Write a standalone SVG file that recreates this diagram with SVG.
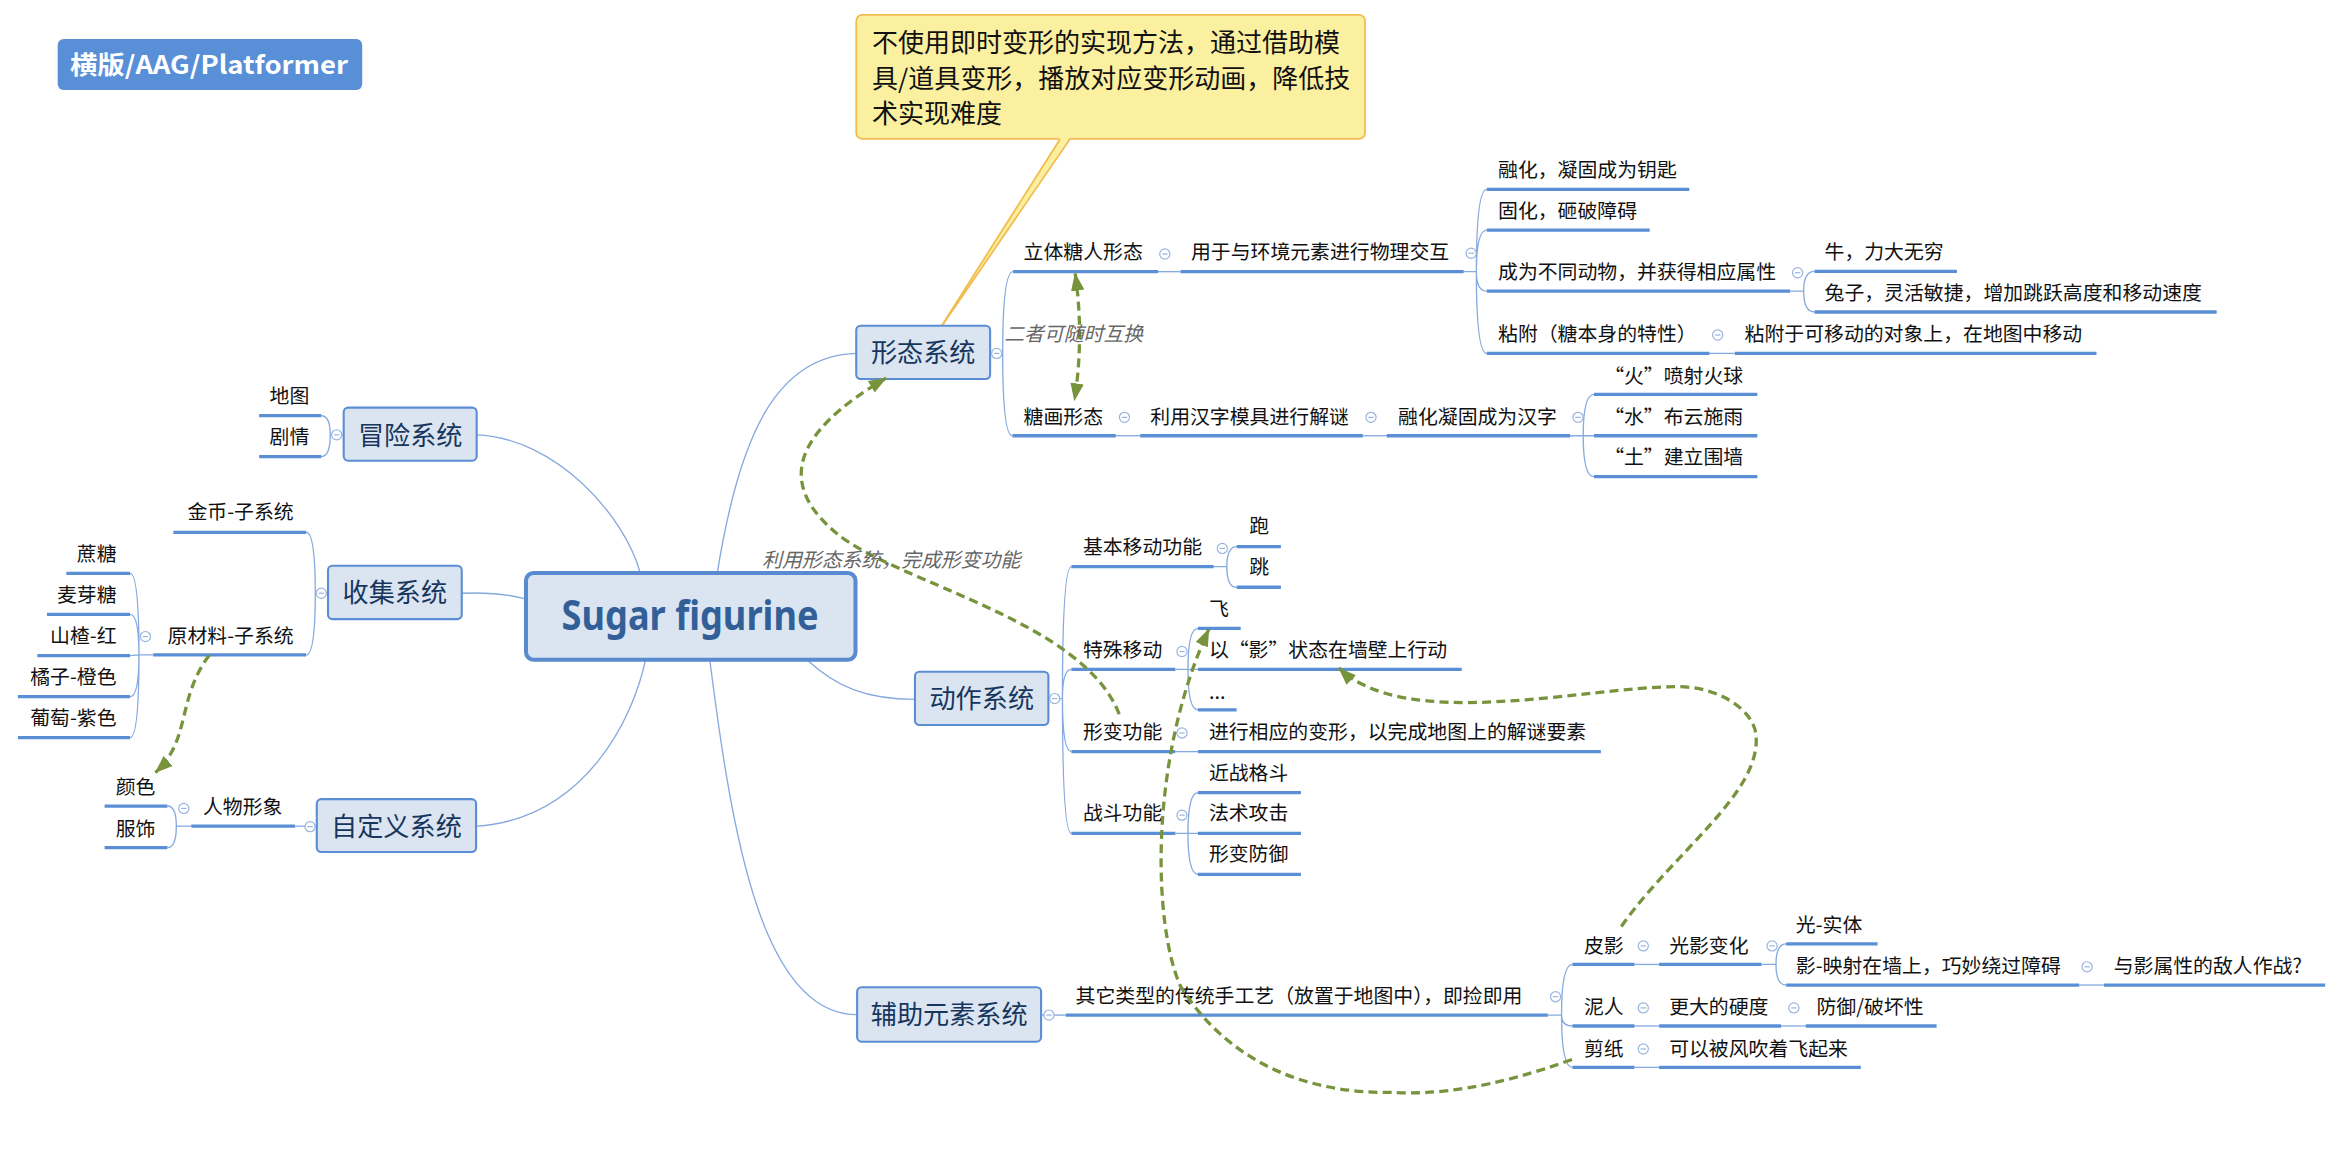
<svg xmlns="http://www.w3.org/2000/svg" xmlns:xlink="http://www.w3.org/1999/xlink" width="2343" height="1161" viewBox="0 0 2343 1161">
<style>
.t{font-family:'Noto Sans CJK SC','Noto Sans',sans-serif;font-size:13.3px;fill:#111}
.nt{font-family:'Noto Sans CJK SC','Noto Sans',sans-serif;font-size:17.4px;fill:#111}
.e{text-anchor:end}
.ul{stroke:#5a8fd5;stroke-width:2.2;fill:none}
.c{stroke:#86aadf;stroke-width:0.9;fill:none}
.box{fill:#dbe5f1;stroke:#5a8dd3;stroke-width:1.4}
.mt{font-family:'Noto Sans CJK SC','Noto Sans',sans-serif;font-size:17.5px;fill:#17365d;text-anchor:middle}
.lbl{font-family:'Noto Sans CJK SC','Noto Sans',sans-serif;font-size:13.3px;fill:#666;font-style:italic}
.dash{stroke:#77933c;stroke-width:2.2;stroke-dasharray:6 3.5;fill:none}
.bc{fill:#fff;stroke:#98b4e0;stroke-width:0.8}
.bl{stroke:#98b4e0;stroke-width:0.8}
</style>
<defs>
<g id="btn"><circle class="bc" r="3.4"/><line class="bl" x1="-1.8" y1="0" x2="1.8" y2="0"/></g>
<marker id="ah" markerUnits="userSpaceOnUse" viewBox="0 0 12 10" markerWidth="12" markerHeight="10" refX="11.5" refY="5" orient="auto-start-reverse"><path d="M0,0.5 L12,5 L0,9.5 z" fill="#77933c"/></marker>
</defs>
<rect x="0" y="0" width="2343" height="1161" fill="#fff"/>
<g transform="scale(1.4943)">

<g id="connectors">
<path class="c" d="M428.5,383.5 C418,345 372,293 319,291"/>
<path class="c" d="M352,401 Q335,396 309,397"/>
<path class="c" d="M432,441.5 C424,480 392,548 318.6,553"/>
<path class="c" d="M480,383.5 C495,290 520,238 573,236.5"/>
<path class="c" d="M540,441.5 C560,460 580,468 612.3,468"/>
<path class="c" d="M475,441.5 C490,560 510,679 573.6,679"/>

<path class="c" d="M662.6,236.5 L671,236.5 Q671,181.8 678,181.8 M671,236.5 Q671,291.6 677.6,291.6"/>
<path class="c" d="M775,181.8 L790,181.8"/>
<path class="c" d="M979.5,181.8 L988,181.8 Q988,126.7 995,126.7 M988,181.8 Q988,154 995,154 M988,181.8 Q988,194.8 995,194.8 M988,181.8 Q988,236.5 995,236.5"/>
<path class="c" d="M1198,194.8 L1207,194.8 Q1207,181.6 1214.3,181.6 M1207,194.8 Q1207,208.8 1214.3,208.8"/>
<path class="c" d="M1144,236.5 L1161,236.5"/>
<path class="c" d="M746.7,291.6 L763,291.6"/>
<path class="c" d="M912,291.6 L928,291.6"/>
<path class="c" d="M1050.7,291.6 L1066.7,291.6 M1059.5,291.6 Q1059.5,263.9 1066.7,263.9 M1059.5,291.6 Q1059.5,319 1066.7,319"/>

<path class="c" d="M701.6,467.5 L711,467.5 M711,467.5 Q711,379.2 717,379.2 M711,467.5 Q711,448 717,448 M711,467.5 Q711,503 717,503 M711,467.5 Q711,557.7 717,557.7"/>
<path class="c" d="M812.2,379.2 L821,379.2 Q821,365.8 827.6,365.8 M821,379.2 Q821,393 827.6,393"/>
<path class="c" d="M786.5,448 L801.7,448 M795,448 Q795,420.5 801.7,420.5 M795,448 Q795,475 801.7,475"/>
<path class="c" d="M786.5,503 L801.7,503"/>
<path class="c" d="M786.5,557.7 L801.7,557.7 M795,557.7 Q795,530.5 801.7,530.5 M795,557.7 Q795,585.1 801.7,585.1"/>

<path class="c" d="M696.7,679.3 L713.2,679.3"/>
<path class="c" d="M1035.8,679.3 L1045,679.3 Q1045,645.4 1052.3,645.4 M1045,679.3 Q1045,686.6 1052.3,686.6 M1045,679.3 Q1045,714.3 1052.3,714.3"/>
<path class="c" d="M1093.8,645.4 L1110.3,645.4"/>
<path class="c" d="M1178.8,645.4 L1188.5,645.4 Q1188.5,631.7 1195.3,631.7 M1188.5,645.4 Q1188.5,659.2 1195.3,659.2"/>
<path class="c" d="M1391.4,659.2 L1408,659.2"/>
<path class="c" d="M1093.8,686.6 L1110.3,686.6"/>
<path class="c" d="M1191.9,686.6 L1208.4,686.6"/>
<path class="c" d="M1093.8,714.3 L1110.3,714.3"/>

<path class="c" d="M230,291 L221,291 Q221,278.2 215,278.2 M221,291 Q221,305.6 215,305.6"/>
<path class="c" d="M219.5,397 L211,397 Q211,356.2 204.8,356.2 M211,397 Q211,438.3 204.8,438.3"/>
<path class="c" d="M102.5,438.3 L93,438.3 Q93,383.7 87,383.7 M93,438.3 Q93,411.1 87,411.1 M93,438.3 L87,438.8 M93,438.3 Q93,466.2 87,466.2 M93,438.3 Q93,493.6 87,493.6"/>
<path class="c" d="M212,553 L197.4,552.8"/>
<path class="c" d="M128,552.8 L118,552.8 Q118,539.4 112,539.4 M118,552.8 Q118,567.3 112,567.3"/>
</g>

<g id="title">
<rect x="38.6" y="26.1" width="203.8" height="34.1" rx="4" fill="#588fd6"/>
<text x="46.8" y="49.5" font-family="'Noto Sans CJK SC','Noto Sans',sans-serif" font-size="17" font-weight="bold" fill="#fff" textLength="186" lengthAdjust="spacingAndGlyphs">横版/AAG/Platformer</text>
</g>

<g id="note">
<rect x="573" y="10" width="340.5" height="83" rx="4" fill="#fbf0a0" stroke="#f2bd50" stroke-width="1.2"/>
<polygon points="709.5,91.8 716,91.8 627,223" fill="#fbf0a0"/>
<polyline points="709.5,93 627,223 716,93" fill="none" stroke="#f2bd50" stroke-width="1.2"/>
<text class="nt" x="583.6" y="35">不使用即时变形的实现方法，通过借助模</text>
<text class="nt" x="583.6" y="58.6">具/道具变形，播放对应变形动画，降低技</text>
<text class="nt" x="583.6" y="82.2">术实现难度</text>
</g>

<g id="root">
<rect x="352" y="383.5" width="220.5" height="58" rx="5" fill="#dbe5f1" stroke="#5a8ad0" stroke-width="2.7"/>
<text x="461.8" y="421.6" text-anchor="middle" font-family="'Noto Sans','Open Sans',sans-serif" font-size="27" font-weight="bold" fill="#335f99" textLength="172" lengthAdjust="spacingAndGlyphs">Sugar figurine</text>
</g>

<g id="n-xingtai"><rect class="box" x="573" y="218" width="89.6" height="35.6" rx="3"/><text class="mt" x="617.8" y="242.5">形态系统</text><use xlink:href="#btn" x="667" y="236.5"/></g>
<g id="n-maoxian"><rect class="box" x="230" y="272.8" width="89" height="35.5" rx="3"/><text class="mt" x="274.5" y="297.5">冒险系统</text><use xlink:href="#btn" x="225.3" y="291"/></g>
<g id="n-shouji"><rect class="box" x="219.5" y="378.6" width="89.5" height="35.7" rx="3"/><text class="mt" x="264.2" y="403">收集系统</text><use xlink:href="#btn" x="215" y="397"/></g>
<g id="n-zidingyi"><rect class="box" x="212" y="534.8" width="106.6" height="35.4" rx="3"/><text class="mt" x="265.3" y="559.5">自定义系统</text><use xlink:href="#btn" x="207.5" y="553.2"/></g>
<g id="n-dongzuo"><rect class="box" x="612.3" y="449.5" width="89.3" height="35.7" rx="3"/><text class="mt" x="657" y="473.5">动作系统</text><use xlink:href="#btn" x="705.8" y="467.5"/></g>
<g id="n-fuzhu"><rect class="box" x="573.6" y="660.7" width="123.1" height="36.4" rx="3"/><text class="mt" x="635.2" y="685.5">辅助元素系统</text><use xlink:href="#btn" x="702" y="679.3"/></g>

<g id="n-liti"><text class="t" x="685" y="173">立体糖人形态</text><line class="ul" x1="678" y1="181.8" x2="775" y2="181.8"/><use xlink:href="#btn" x="779.5" y="170"/></g>
<g id="n-yongyu"><text class="t" x="797" y="173">用于与环境元素进行物理交互</text><line class="ul" x1="790" y1="181.8" x2="979.5" y2="181.8"/><use xlink:href="#btn" x="984.5" y="169.5"/></g>
<g id="n-ronghua"><text class="t" x="1002.5" y="118.5">融化，凝固成为钥匙</text><line class="ul" x1="995" y1="126.7" x2="1130.5" y2="126.7"/></g>
<g id="n-guhua"><text class="t" x="1002.5" y="146">固化，砸破障碍</text><line class="ul" x1="995" y1="154" x2="1104" y2="154"/></g>
<g id="n-dongwu"><text class="t" x="1002.5" y="187">成为不同动物，并获得相应属性</text><line class="ul" x1="995" y1="194.8" x2="1198" y2="194.8"/><use xlink:href="#btn" x="1203" y="182.5"/></g>
<g id="n-niu"><text class="t" x="1221" y="173.5">牛，力大无穷</text><line class="ul" x1="1214.3" y1="181.6" x2="1309.6" y2="181.6"/></g>
<g id="n-tuzi"><text class="t" x="1221" y="200.5">兔子，灵活敏捷，增加跳跃高度和移动速度</text><line class="ul" x1="1214.3" y1="208.8" x2="1483.4" y2="208.8"/></g>
<g id="n-nianfu"><text class="t" x="1002.5" y="228.5">粘附（糖本身的特性）</text><line class="ul" x1="995" y1="236.5" x2="1144" y2="236.5"/><use xlink:href="#btn" x="1149.5" y="224.2"/></g>
<g id="n-nianfu2"><text class="t" x="1167.5" y="228.5">粘附于可移动的对象上，在地图中移动</text><line class="ul" x1="1161" y1="236.5" x2="1403" y2="236.5"/></g>
<g id="n-tanghua"><text class="t" x="685" y="283.5">糖画形态</text><line class="ul" x1="677.6" y1="291.6" x2="746.7" y2="291.6"/><use xlink:href="#btn" x="752.5" y="279.3"/></g>
<g id="n-hanzi"><text class="t" x="769.8" y="283.5">利用汉字模具进行解谜</text><line class="ul" x1="763" y1="291.6" x2="912" y2="291.6"/><use xlink:href="#btn" x="917.5" y="279.3"/></g>
<g id="n-ronghua2"><text class="t" x="935.6" y="283.5">融化凝固成为汉字</text><line class="ul" x1="928" y1="291.6" x2="1050.7" y2="291.6"/><use xlink:href="#btn" x="1056" y="279.3"/></g>
<g id="n-huo"><text class="t" x="1073.5" y="256">“火”喷射火球</text><line class="ul" x1="1066.7" y1="263.9" x2="1176" y2="263.9"/></g>
<g id="n-shui"><text class="t" x="1073.5" y="283.5">“水”布云施雨</text><line class="ul" x1="1066.7" y1="291.6" x2="1176" y2="291.6"/></g>
<g id="n-tu"><text class="t" x="1073.5" y="310.5">“土”建立围墙</text><line class="ul" x1="1066.7" y1="319" x2="1176" y2="319"/></g>

<g id="n-jiben"><text class="t" x="724.7" y="370.5">基本移动功能</text><line class="ul" x1="717" y1="379.2" x2="812.2" y2="379.2"/><use xlink:href="#btn" x="818" y="367"/></g>
<g id="n-pao"><text class="t" x="836" y="356.5">跑</text><line class="ul" x1="827.6" y1="365.8" x2="857.2" y2="365.8"/></g>
<g id="n-tiao"><text class="t" x="836" y="384">跳</text><line class="ul" x1="827.6" y1="393" x2="857.2" y2="393"/></g>
<g id="n-teshu"><text class="t" x="724.7" y="439.5">特殊移动</text><line class="ul" x1="717" y1="448" x2="786.5" y2="448"/><use xlink:href="#btn" x="791" y="436"/></g>
<g id="n-fei"><text class="t" x="809" y="412">飞</text><line class="ul" x1="801.7" y1="420.5" x2="830.3" y2="420.5"/></g>
<g id="n-ying"><text class="t" x="809" y="439.5">以“影”状态在墙壁上行动</text><line class="ul" x1="801.7" y1="448" x2="978.2" y2="448"/></g>
<g id="n-etc"><text class="t" x="809" y="467.5">...</text><line class="ul" x1="801.7" y1="475" x2="827.6" y2="475"/></g>
<g id="n-xingbian"><text class="t" x="724.7" y="494.5">形变功能</text><line class="ul" x1="717" y1="503" x2="786.5" y2="503"/><use xlink:href="#btn" x="791" y="490.5"/></g>
<g id="n-jinxing"><text class="t" x="809" y="494.5">进行相应的变形，以完成地图上的解谜要素</text><line class="ul" x1="801.7" y1="503" x2="1071.3" y2="503"/></g>
<g id="n-zhandou"><text class="t" x="724.7" y="549">战斗功能</text><line class="ul" x1="717" y1="557.7" x2="786.5" y2="557.7"/><use xlink:href="#btn" x="791" y="545.5"/></g>
<g id="n-jinzhan"><text class="t" x="809" y="522">近战格斗</text><line class="ul" x1="801.7" y1="530.5" x2="870.6" y2="530.5"/></g>
<g id="n-fashu"><text class="t" x="809" y="549">法术攻击</text><line class="ul" x1="801.7" y1="557.7" x2="870.6" y2="557.7"/></g>
<g id="n-fangyu"><text class="t" x="809" y="576.5">形变防御</text><line class="ul" x1="801.7" y1="585.1" x2="870.6" y2="585.1"/></g>

<g id="n-qita"><text class="t" x="719.8" y="671">其它类型的传统手工艺（放置于地图中），即捡即用</text><line class="ul" x1="713.2" y1="679.3" x2="1035.8" y2="679.3"/><use xlink:href="#btn" x="1041" y="667"/></g>
<g id="n-piying"><text class="t" x="1060" y="637.5">皮影</text><line class="ul" x1="1052.3" y1="645.4" x2="1093.8" y2="645.4"/><use xlink:href="#btn" x="1099.7" y="633"/></g>
<g id="n-guangying"><text class="t" x="1117" y="637.5">光影变化</text><line class="ul" x1="1110.3" y1="645.4" x2="1178.8" y2="645.4"/><use xlink:href="#btn" x="1185.9" y="633"/></g>
<g id="n-guang"><text class="t" x="1201.8" y="624">光-实体</text><line class="ul" x1="1195.3" y1="631.7" x2="1256.5" y2="631.7"/></g>
<g id="n-yingying"><text class="t" x="1201.8" y="651">影-映射在墙上，巧妙绕过障碍</text><line class="ul" x1="1195.3" y1="659.2" x2="1391.4" y2="659.2"/><use xlink:href="#btn" x="1396.7" y="647"/></g>
<g id="n-diren"><text class="t" x="1414.5" y="651">与影属性的敌人作战?</text><line class="ul" x1="1408" y1="659.2" x2="1556" y2="659.2"/></g>
<g id="n-niren"><text class="t" x="1060" y="678.5">泥人</text><line class="ul" x1="1052.3" y1="686.6" x2="1093.8" y2="686.6"/><use xlink:href="#btn" x="1099.7" y="674.5"/></g>
<g id="n-yingdu"><text class="t" x="1117" y="678.5">更大的硬度</text><line class="ul" x1="1110.3" y1="686.6" x2="1191.9" y2="686.6"/><use xlink:href="#btn" x="1200.5" y="674.5"/></g>
<g id="n-pohuai"><text class="t" x="1215.6" y="678.5">防御/破坏性</text><line class="ul" x1="1208.4" y1="686.6" x2="1296" y2="686.6"/></g>
<g id="n-jianzhi"><text class="t" x="1060" y="706.5">剪纸</text><line class="ul" x1="1052.3" y1="714.3" x2="1093.8" y2="714.3"/><use xlink:href="#btn" x="1099.7" y="702"/></g>
<g id="n-feng"><text class="t" x="1117" y="706.5">可以被风吹着飞起来</text><line class="ul" x1="1110.3" y1="714.3" x2="1245.3" y2="714.3"/></g>

<g id="n-ditu"><text class="t e" x="207" y="269.5">地图</text><line class="ul" x1="173.4" y1="278.2" x2="215" y2="278.2"/></g>
<g id="n-juqing"><text class="t e" x="207" y="297">剧情</text><line class="ul" x1="173.4" y1="305.6" x2="215" y2="305.6"/></g>
<g id="n-jinbi"><text class="t e" x="196.5" y="347.5">金币-子系统</text><line class="ul" x1="116" y1="356.2" x2="204.8" y2="356.2"/></g>
<g id="n-yuancailiao"><text class="t e" x="196.5" y="430">原材料-子系统</text><line class="ul" x1="102.5" y1="438.3" x2="204.8" y2="438.3"/><use xlink:href="#btn" x="97.3" y="426"/></g>
<g id="n-zhetang"><text class="t e" x="78" y="375.5">蔗糖</text><line class="ul" x1="44.4" y1="383.7" x2="87" y2="383.7"/></g>
<g id="n-maiya"><text class="t e" x="78" y="403">麦芽糖</text><line class="ul" x1="31.4" y1="411.1" x2="87" y2="411.1"/></g>
<g id="n-shanzha"><text class="t e" x="78" y="430.5">山楂-红</text><line class="ul" x1="25" y1="438.8" x2="87" y2="438.8"/></g>
<g id="n-juzi"><text class="t e" x="78" y="458">橘子-橙色</text><line class="ul" x1="12" y1="466.2" x2="87" y2="466.2"/></g>
<g id="n-putao"><text class="t e" x="78" y="485.5">葡萄-紫色</text><line class="ul" x1="12" y1="493.6" x2="87" y2="493.6"/></g>
<g id="n-renwu"><text class="t e" x="189" y="545">人物形象</text><line class="ul" x1="128" y1="552.8" x2="197.4" y2="552.8"/><use xlink:href="#btn" x="123" y="541"/></g>
<g id="n-yanse"><text class="t e" x="104" y="531.5">颜色</text><line class="ul" x1="70" y1="539.4" x2="112" y2="539.4"/></g>
<g id="n-fushi"><text class="t e" x="104" y="559.5">服饰</text><line class="ul" x1="70" y1="567.3" x2="112" y2="567.3"/></g>

<g id="relations">
<path class="dash" d="M719.5,183 C723.5,210 723.5,240 719,268" marker-start="url(#ah)" marker-end="url(#ah)"/>
<text class="lbl" x="672" y="228.5">二者可随时互换</text>
<path class="dash" d="M749,478 C725,415 600,390 560,357 S530,290 593,253" marker-end="url(#ah)"/>
<text class="lbl" x="510" y="379.5">利用形态系统，完成形变功能</text>
<path class="dash" d="M1052,709 C1000,728 960,733 931,731 C870,732 820,708 790,660 C772,620 768,510 809,421" marker-end="url(#ah)"/>
<path class="dash" d="M1085,620 C1120,570 1180,530 1175,491 C1173,475 1150,459 1121,459.5 C1060,460 940,490 896,447" marker-end="url(#ah)"/>
<path class="dash" d="M140,438.5 C118,468 128,495 104,517" marker-end="url(#ah)"/>
</g>

</g>
</svg>
